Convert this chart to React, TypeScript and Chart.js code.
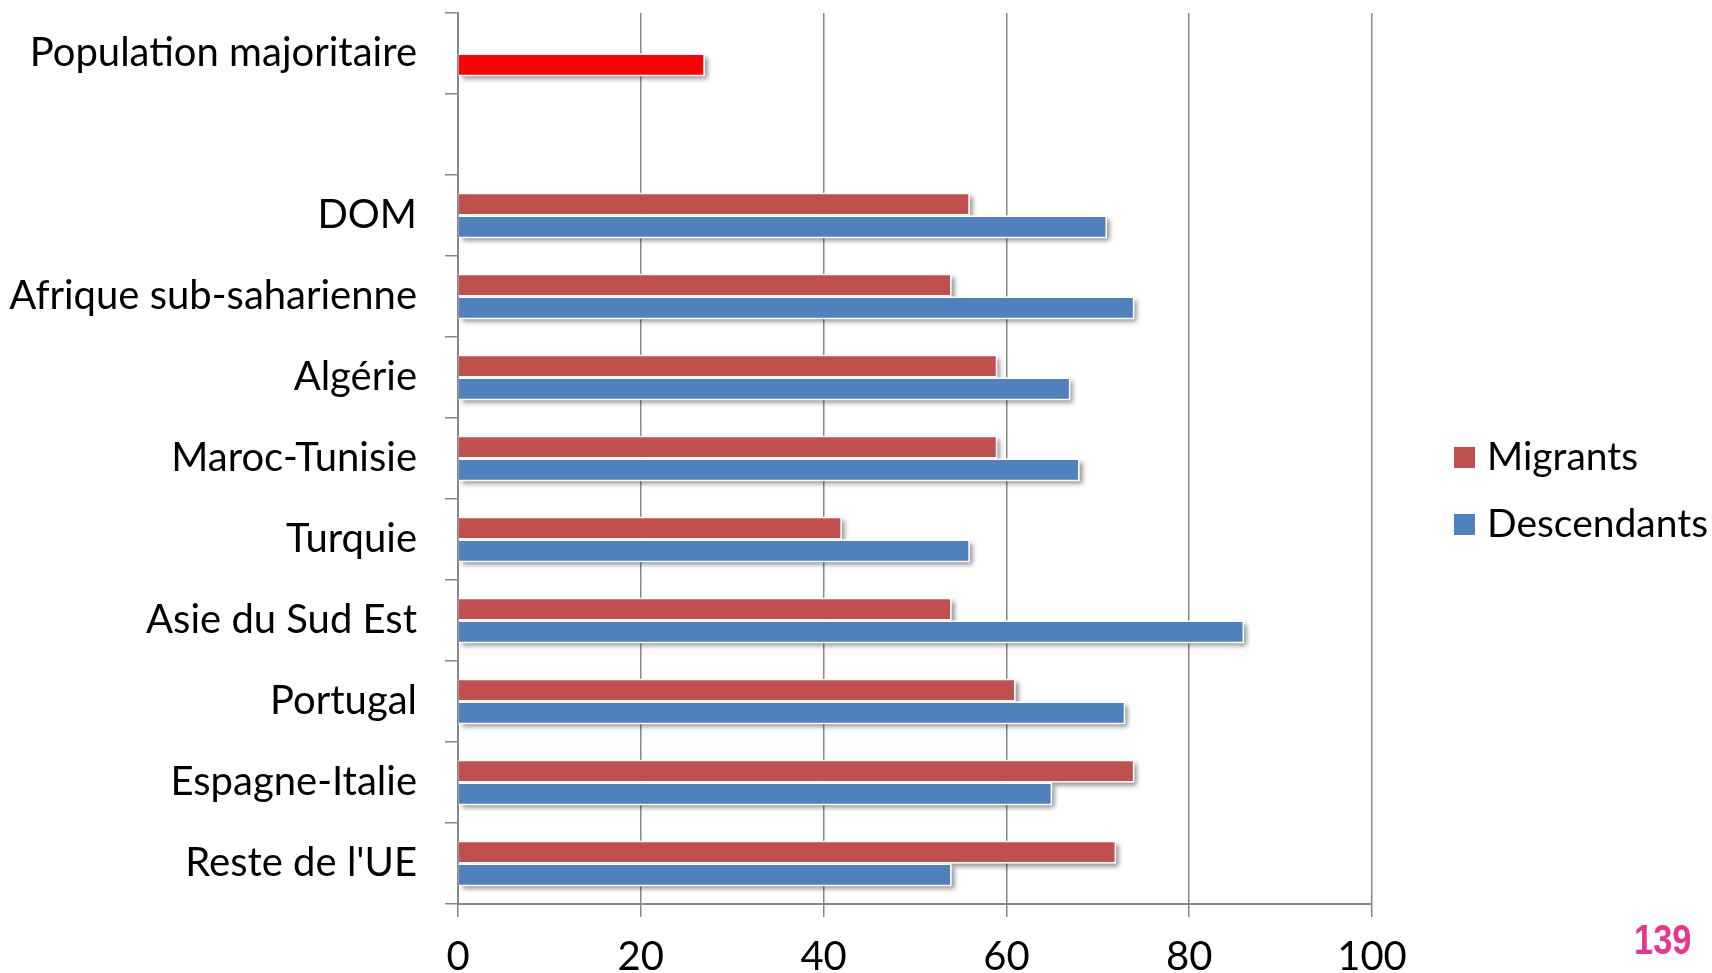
import React, { useEffect, useRef } from "react";
import { Chart, registerables } from "chart.js";

Chart.register(...registerables);

const categories = [
  "Population majoritaire",
  "",
  "DOM",
  "Afrique sub-saharienne",
  "Algérie",
  "Maroc-Tunisie",
  "Turquie",
  "Asie du Sud Est",
  "Portugal",
  "Espagne-Italie",
  "Reste de l'UE",
];
const migrants = [null, null, 56, 54, 59, 59, 42, 54, 61, 74, 72];
const descendants = [27, null, 71, 74, 67, 68, 56, 86, 73, 65, 54];
const seriesNames = ["Migrants", "Descendants"];
const xTicks = [0, 20, 40, 60, 80, 100];
const pageNumber = "139";

const RED = "#C0504D";
const BLUE = "#4F81BD";
const BRIGHT_RED = "#FF0000";
const GRID = "#878787";
const FONT = "Lato, 'Open Sans', sans-serif";
const FS = 40;

const shadowPlugin = {
  id: "barShadow",
  beforeDatasetsDraw(chart: any) {
    const ctx = chart.ctx;
    ctx.save();
    ctx.shadowColor = "rgba(0,0,0,0.45)";
    ctx.shadowBlur = 5;
    ctx.shadowOffsetX = 3;
    ctx.shadowOffsetY = 3;
    ctx.fillStyle = "#ffffff";
    chart.data.datasets.forEach((ds: any, i: number) => {
      const meta = chart.getDatasetMeta(i);
      meta.data.forEach((el: any, j: number) => {
        if (ds.data[j] == null) return;
        const p = el.getProps(["x", "y", "base", "height"], true);
        const left = Math.min(p.base, p.x);
        const w = Math.abs(p.x - p.base);
        ctx.fillRect(left, p.y - p.height / 2, w, p.height);
      });
    });
    ctx.restore();
  },
};

const extrasPlugin = {
  id: "extras",
  afterDraw(chart: any) {
    const ctx = chart.ctx;
    ctx.save();
    const colors = [RED, BLUE];
    const ys = [457, 524];
    ctx.font = `39px ${FONT}`;
    ctx.textBaseline = "middle";
    ctx.textAlign = "left";
    seriesNames.forEach((n, i) => {
      ctx.fillStyle = colors[i];
      ctx.fillRect(1454, ys[i] - 10, 21, 21);
      ctx.fillStyle = "#000";
      ctx.fillText(n, 1487, ys[i]);
    });
    ctx.save();
    ctx.translate(1634, 942);
    ctx.scale(0.86, 1.05);
    ctx.font = `bold 40px 'Liberation Sans', Arial, sans-serif`;
    ctx.fillStyle = "#E8368C";
    ctx.textBaseline = "middle";
    ctx.fillText(pageNumber, 0, 0);
    ctx.restore();
    ctx.restore();
  },
};

export default function App() {
  const ref = useRef<HTMLCanvasElement>(null);
  useEffect(() => {
    document.body.style.margin = "0";
    const chart = new Chart(ref.current!, {
      type: "bar",
      data: {
        labels: categories,
        datasets: [
          {
            label: seriesNames[0],
            data: migrants as any,
            backgroundColor: RED,
            borderColor: "#ffffff",
            borderWidth: { top: 1.5, right: 1.5, bottom: 1.5, left: 0 },
            borderSkipped: false,
          },
          {
            label: seriesNames[1],
            data: descendants as any,
            backgroundColor: descendants.map((_, i) => (i === 0 ? BRIGHT_RED : BLUE)),
            borderColor: "#ffffff",
            borderWidth: { top: 1.5, right: 1.5, bottom: 1.5, left: 0 },
            borderSkipped: false,
          },
        ],
      },
      options: {
        indexAxis: "y",
        responsive: false,
        animation: false,
        layout: { padding: { top: 13, right: 340, left: 0, bottom: 0 } },
        plugins: { legend: { display: false }, tooltip: { enabled: false } },
        datasets: { bar: { categoryPercentage: 0.56, barPercentage: 1 } },
        scales: {
          x: {
            min: 0,
            max: 100,
            afterBuildTicks: (s: any) => {
              s.ticks = xTicks.map((v) => ({ value: v }));
            },
            grid: { color: GRID, lineWidth: 1.5, tickLength: 13 },
            border: { color: GRID, width: 2 },
            ticks: { color: "#000", font: { family: FONT, size: FS }, padding: 16 },
            afterFit: (s: any) => {
              s.height = 69;
              s.paddingLeft = 0;
              s.paddingRight = 0;
            },
          },
          y: {
            grid: { offset: true, drawOnChartArea: false, color: GRID, lineWidth: 1.5, tickLength: 13 },
            border: { color: GRID, width: 2 },
            ticks: { color: "#000", font: { family: FONT, size: FS }, padding: 28, autoSkip: false },
            afterFit: (s: any) => {
              s.width = 458;
              s.paddingTop = 0;
              s.paddingBottom = 0;
            },
          },
        },
      },
      plugins: [shadowPlugin, extrasPlugin],
    });
    return () => chart.destroy();
  }, []);
  return <canvas ref={ref} width={1712} height={973} />;
}
